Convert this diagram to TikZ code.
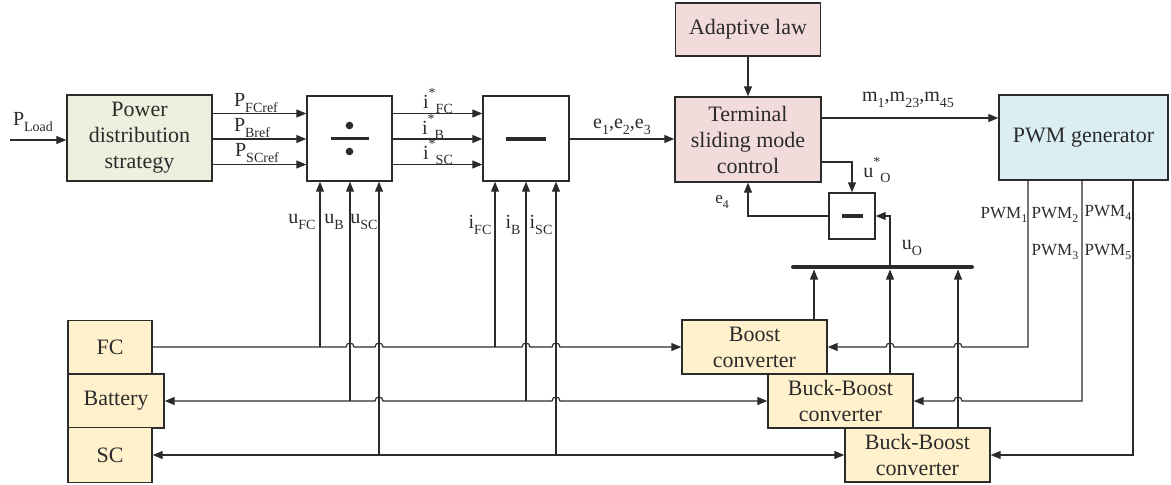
\documentclass[tikz,border=0pt]{standalone}
\usepackage{fontspec}
\setmainfont{Liberation Serif}
\usetikzlibrary{arrows.meta}
\definecolor{linec}{HTML}{2B2B2B}
\definecolor{fgreen}{HTML}{EBF1DE}
\definecolor{fpink}{HTML}{F2DCDB}
\definecolor{fblue}{HTML}{DAEEF3}
\definecolor{fyellow}{HTML}{FEF1CC}
\newcommand{\dn}[1]{\raisebox{-0.28em}{\scalebox{0.7}{#1}}}
\newcommand{\upr}[1]{\raisebox{0.55em}{\scalebox{0.7}{#1}}}
\tikzset{
  blk/.style={draw=linec, line width=1.4pt, inner sep=0pt, align=center,
    font=\fontsize{22}{26}\selectfont, text=linec},
  conn/.style={draw=linec, line width=1.2pt},
  arr/.style={conn, -{Triangle[length=10pt,width=8pt]}},
  darr/.style={conn, {Triangle[length=10pt,width=8pt]}-{Triangle[length=10pt,width=8pt]}},
  lbl/.style={inner sep=0pt, font=\fontsize{20}{24}\selectfont, text=linec},
  plbl/.style={inner sep=0pt, font=\fontsize{17}{20}\selectfont, text=linec},
}
\begin{document}
\begin{tikzpicture}[x=1pt,y=-1pt]
\useasboundingbox (0,0) rectangle (1171,485);
% blocks
\node[blk, fill=fgreen, minimum width=145pt, minimum height=86pt] (pds) at (139.5,138) {Power\\distribution\\strategy};
\node[blk, fill=white, minimum width=85pt, minimum height=85pt] (div) at (349.5,138.5) {};
\node[blk, fill=white, minimum width=86pt, minimum height=85pt] (sub) at (526,138.5) {};
\node[blk, fill=fpink, minimum width=146pt, minimum height=85pt] (smc) at (748,139.5) {Terminal\\sliding mode\\control};
\node[blk, fill=fpink, minimum width=145pt, minimum height=53pt] (adapt) at (748,29.5) {Adaptive law};
\node[blk, fill=fblue, minimum width=169pt, minimum height=85pt] (pwm) at (1083.5,137.5) {PWM generator};
\node[blk, fill=white, minimum width=46pt, minimum height=46pt] (sub2) at (852,216) {};
\node[blk, fill=fyellow, minimum width=145pt, minimum height=54pt] (boost) at (754.5,347) {Boost\\converter};
\node[blk, fill=fyellow, minimum width=145pt, minimum height=54pt] (bb1) at (840.5,401) {Buck-Boost\\converter};
\node[blk, fill=fyellow, minimum width=145pt, minimum height=54pt] (bb2) at (917.5,455) {Buck-Boost\\converter};
\node[blk, fill=fyellow, minimum width=84pt, minimum height=53pt] (fc) at (110,347) {FC};
\node[blk, fill=fyellow, minimum width=96pt, minimum height=54pt] (bat) at (116,401) {Battery};
\node[blk, fill=fyellow, minimum width=84pt, minimum height=55pt] (sc) at (110,455) {SC};
% symbols inside operator boxes
\begin{scope}[shift={(div.center)}]
  \draw[linec, line width=3.5pt] (-19,0) -- (19,0);
  \fill[linec] (0,-13) circle (3.8pt);
  \fill[linec] (0,13) circle (3.8pt);
\end{scope}
\draw[linec, line width=4pt] ([xshift=-20pt]sub.center) -- ([xshift=20pt]sub.center);
\draw[linec, line width=3.5pt] ([xshift=-10.5pt]sub2.center) -- ([xshift=10.5pt]sub2.center);
% helper coordinates
\coordinate (pin) at (10,140);
\coordinate (y1) at (0,113.5);
\coordinate (y2) at (0,139);
\coordinate (y3) at (0,164.5);
\coordinate (ym) at (0,118);
\coordinate (yu) at (0,162);
\coordinate (bt) at (0,269.5);
\coordinate (busL) at (793,267);
\coordinate (busR) at (972,267);
\coordinate (xb1) at (814,0);
\coordinate (xb2) at (890,0);
\coordinate (xb3) at (958,0);
\coordinate (xp1) at (1028,0);
\coordinate (xp2) at (1082,0);
\coordinate (xp3) at (1133,0);
\coordinate (j1) at (320,347);
\coordinate (j2) at (350,401);
\coordinate (j3) at (379,455);
\coordinate (j4) at (495,347);
\coordinate (j5) at (526,401);
\coordinate (j6) at (556,455);
% top connectors
\draw[arr] (pin) -- (pin -| pds.west);
\draw[arr] (pds.east |- y1) -- (div.west |- y1);
\draw[arr] (pds.east |- y2) -- (div.west |- y2);
\draw[arr] (pds.east |- y3) -- (div.west |- y3);
\draw[arr] (div.east |- y1) -- (sub.west |- y1);
\draw[arr] (div.east |- y2) -- (sub.west |- y2);
\draw[arr] (div.east |- y3) -- (sub.west |- y3);
\draw[arr] (sub.east |- y2) -- (smc.west |- y2);
\draw[arr] (adapt) -- (smc);
\draw[arr] (smc.east |- ym) -- (pwm.west |- ym);
\draw[arr] (smc.east |- yu) -| (sub2.north);
\draw[arr] (sub2.west) -| (smc.south);
% bus
\draw[linec, line width=4pt, line cap=round] (busL) -- (busR);
\draw[arr] (boost.north -| xb1) -- (bt -| xb1);
\draw[arr] (bb1.north -| xb2) -- (bt -| xb2);
\draw[arr] (bb2.north -| xb3) -- (bt -| xb3);
\draw[arr] (busL -| xb2) |- (sub2.east);
% measurement verticals
\draw[arr] (j1) -- (j1 |- div.south);
\draw[arr] (j2) -- (j2 |- div.south);
\draw[arr] (j3) -- (j3 |- div.south);
\draw[arr] (j4) -- (j4 |- sub.south);
\draw[arr] (j5) -- (j5 |- sub.south);
\draw[arr] (j6) -- (j6 |- sub.south);
% source lines
\draw[arr] (fc.east) -- (346,347) .. controls (346,341.7) and (354,341.7) .. (354,347)
  -- (375,347) .. controls (375,341.7) and (383,341.7) .. (383,347)
  -- (522,347) .. controls (522,341.7) and (530,341.7) .. (530,347)
  -- (552,347) .. controls (552,341.7) and (560,341.7) .. (560,347)
  -- (boost.west);
\draw[darr] (bat.east) -- (375,401) .. controls (375,395.7) and (383,395.7) .. (383,401)
  -- (552,401) .. controls (552,395.7) and (560,395.7) .. (560,401)
  -- (bb1.west);
\draw[darr] (sc.east) -- (bb2.west);
% PWM lines
\draw[arr] (pwm.south -| xp1) -- (1028,347) -- (962,347) .. controls (962,341.7) and (954,341.7) .. (954,347)
  -- (894,347) .. controls (894,341.7) and (886,341.7) .. (886,347) -- (boost.east);
\draw[arr] (pwm.south -| xp2) -- (1082,401) -- (962,401) .. controls (962,395.7) and (954,395.7) .. (954,401)
  -- (bb1.east);
\draw[arr] (pwm.south -| xp3) |- (bb2.east);
% labels
\node[lbl] (lPL) at (33,122) {P\dn{Load}};
\node[lbl] (lPF) at (256,103) {P\dn{FCref}};
\node[lbl] (lPB) at (252,128) {P\dn{Bref}};
\node[lbl] (lPS) at (257,153) {P\dn{SCref}};
\node[lbl] (liF) at (438,101) {i\upr{*}\dn{FC}};
\node[lbl] (liB) at (433,127) {i\upr{*}\dn{B}};
\node[lbl] (liS) at (438,152) {i\upr{*}\dn{SC}};
\node[lbl] (le) at (622,127) {e\dn{1},e\dn{2},e\dn{3}};
\node[lbl] (lm) at (908,100) {m\dn{1},m\dn{23},m\dn{45}};
\node[lbl] (luFC) at (302,222) {u\dn{FC}};
\node[lbl] (luB) at (334,222) {u\dn{B}};
\node[lbl] (luSC) at (364,222) {u\dn{SC}};
\node[lbl] (liFC) at (480,225) {i\dn{FC}};
\node[lbl] (liB2) at (513,225) {i\dn{B}};
\node[lbl] (liSC) at (541,225) {i\dn{SC}};
\node[lbl] (lus) at (877,170) {u\upr{*}\dn{O}};
\node[plbl] (le4) at (722,202) {e\dn{4}};
\node[lbl] (luO) at (912,248) {u\dn{O}};
\node[plbl] (lp1) at (1004,215) {PWM\dn{1}};
\node[plbl] (lp2) at (1055,215) {PWM\dn{2}};
\node[plbl] (lp4) at (1108,213) {PWM\dn{4}};
\node[plbl] (lp3) at (1055,252) {PWM\dn{3}};
\node[plbl] (lp5) at (1108,252) {PWM\dn{5}};
\end{tikzpicture}
\end{document}
